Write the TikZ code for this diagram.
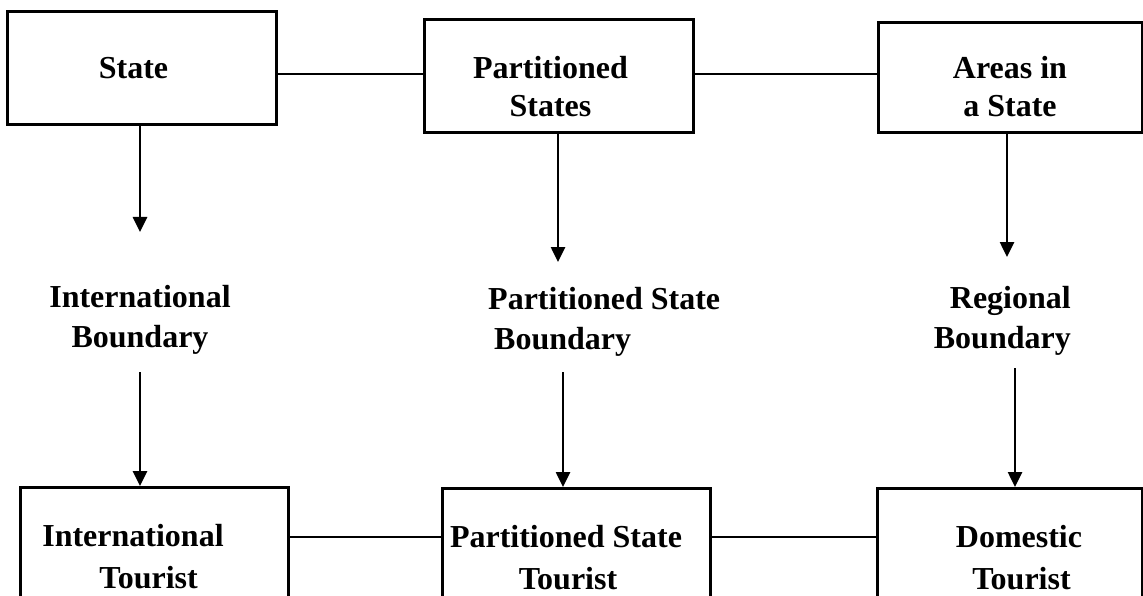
\documentclass[tikz,border=0pt]{standalone}
\usepackage{fontspec}
\setmainfont{Liberation Serif}
\usetikzlibrary{arrows.meta}
\begin{document}
\begin{tikzpicture}[x=1pt, y=-1pt,
  box/.style={draw, line width=3pt, inner sep=0pt, align=center,
    font=\fontsize{32}{38}\selectfont\bfseries},
  tag/.style={inner sep=0pt, align=center,
    font=\fontsize{32}{40}\selectfont\bfseries},
  link/.style={line width=2.6pt},
  arr/.style={line width=2.6pt, -{Triangle[width=14pt,length=15pt]}}]

\useasboundingbox (0,0) rectangle (1143,596);
\clip (0,0) rectangle (1143,596);

% top row: kinds of territory
\node[box, minimum width=269pt, minimum height=113pt]
  (state) at (141.5,68.5) {State\hspace*{16pt}};
\node[box, minimum width=269pt, minimum height=113pt, text height=81pt]
  (part) at (558.5,76.5) {Partitioned\hspace*{16pt}\\States\hspace*{16pt}};
\node[box, minimum width=264pt, minimum height=110pt, text height=78pt]
  (areas) at (1010,78) {Areas in\\a State};

% middle row: boundaries
\node[tag, anchor=north] (intb) at (140,285) {International\\Boundary};
\node[tag, anchor=north west, align=left] (psb) at (488,287)
  {Partitioned State\\\hspace*{6pt}Boundary};
\node[tag, anchor=north east, align=right] (regb) at (1071,286) {Regional\\Boundary};

% bottom row: kinds of tourist (boxes run past the lower edge)
\node[box, minimum width=268pt, minimum height=138pt, anchor=north, align=left,
  font=\fontsize{32}{42}\selectfont\bfseries]
  (intt) at (154,486) {International\hspace*{42pt}\\\hspace*{57pt}Tourist};
\node[box, minimum width=268pt, minimum height=138pt, anchor=north,
  font=\fontsize{32}{42}\selectfont\bfseries]
  (pst) at (576,487) {Partitioned State\hspace*{20pt}\\Tourist\hspace*{16pt}};
\node[box, minimum width=265pt, minimum height=138pt, anchor=north,
  font=\fontsize{32}{42}\selectfont\bfseries]
  (dom) at (1009.5,487) {\hspace*{19pt}Domestic\\\hspace*{24pt}Tourist};

% arrow ends above and starts below the boundary labels
\coordinate (e1) at (140,232);
\coordinate (e2) at (558,262);
\coordinate (e3) at (1007,257);
\coordinate (s1) at (140,372);
\coordinate (s2) at (563,372);
\coordinate (s3) at (1015,368);
\coordinate (toprow) at (0,74);
\coordinate (botrow) at (0,537);

% horizontal links
\draw[link] (state.east |- toprow) -- (part.west |- toprow);
\draw[link] (part.east |- toprow) -- (areas.west |- toprow);
\draw[link] (intt.east |- botrow) -- (pst.west |- botrow);
\draw[link] (pst.east |- botrow) -- (dom.west |- botrow);

% downward arrows
\draw[arr] (state.south -| e1) -- (e1);
\draw[arr] (part.south -| e2) -- (e2);
\draw[arr] (areas.south -| e3) -- (e3);
\draw[arr] (s1) -- (s1 |- intt.north);
\draw[arr] (s2) -- (s2 |- pst.north);
\draw[arr] (s3) -- (s3 |- dom.north);
\end{tikzpicture}
\end{document}
